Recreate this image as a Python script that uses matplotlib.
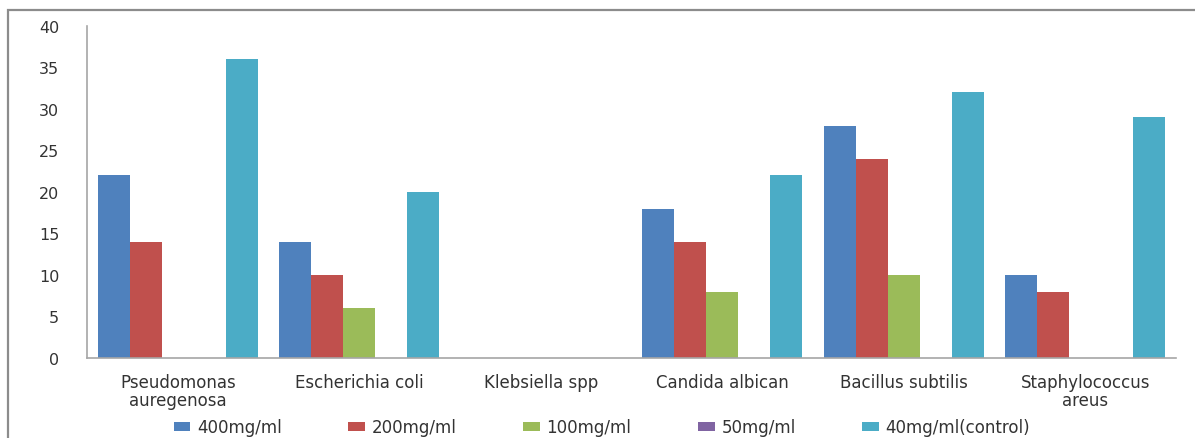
import matplotlib.pyplot as plt
import numpy as np
from matplotlib.patches import Rectangle

categories = ["Pseudomonas\nauregenosa", "Escherichia coli", "Klebsiella spp",
              "Candida albican", "Bacillus subtilis", "Staphylococcus\nareus"]
series_names = ["400mg/ml", "200mg/ml", "100mg/ml", "50mg/ml", "40mg/ml(control)"]
v400 = [22, 14, 0, 18, 28, 10]
v200 = [14, 10, 0, 14, 24, 8]
v100 = [0, 6, 0, 8, 10, 0]
v50 = [0, 0, 0, 0, 0, 0]
vcontrol = [36, 20, 0, 22, 32, 29]
colors = ["#4F81BD", "#C0504D", "#9BBB59", "#8064A2", "#4BACC6"]

series = [v400, v200, v100, v50, vcontrol]

W, H = 1195, 439
fig = plt.figure(figsize=(W / 100, H / 100), dpi=100)
ax = fig.add_axes([87 / W, 1 - 359 / H, (1176 - 87) / W, (359 - 27) / H])

x = np.arange(len(categories))
bw = 0.176
for i, (vals, name, c) in enumerate(zip(series, series_names, colors)):
    ax.bar(x + (i - 2) * bw, vals, width=bw, color=c, label=name, linewidth=0)

ax.set_xlim(-0.5, len(categories) - 0.5)
ax.set_ylim(0, 40)
ax.set_yticks(range(0, 41, 5))
ax.set_xticks(x)
ax.set_xticklabels(categories, fontsize=12, color="#333333", linespacing=0.95)
ax.tick_params(axis="y", length=0, pad=20, labelsize=11.5, labelcolor="#333333")
ax.tick_params(axis="x", length=0, pad=11)
for s in ["top", "right"]:
    ax.spines[s].set_visible(False)
for s in ["left", "bottom"]:
    ax.spines[s].set_color("#A6A6A6")
    ax.spines[s].set_linewidth(1.2)

fig.legend(loc="center", bbox_to_anchor=(602 / W, 1 - 428 / H), ncol=5,
           frameon=False, fontsize=12, handlelength=1.0, handleheight=0.45,
           columnspacing=4.0, handletextpad=0.4, labelcolor="#333333")

fig.patches.append(Rectangle((8 / W, -0.1), 1.2, 1 - 11 / H + 0.1,
                             transform=fig.transFigure, fill=False,
                             edgecolor="#8C8C8C", linewidth=1.6))

fig.savefig("out.png", dpi=100)
